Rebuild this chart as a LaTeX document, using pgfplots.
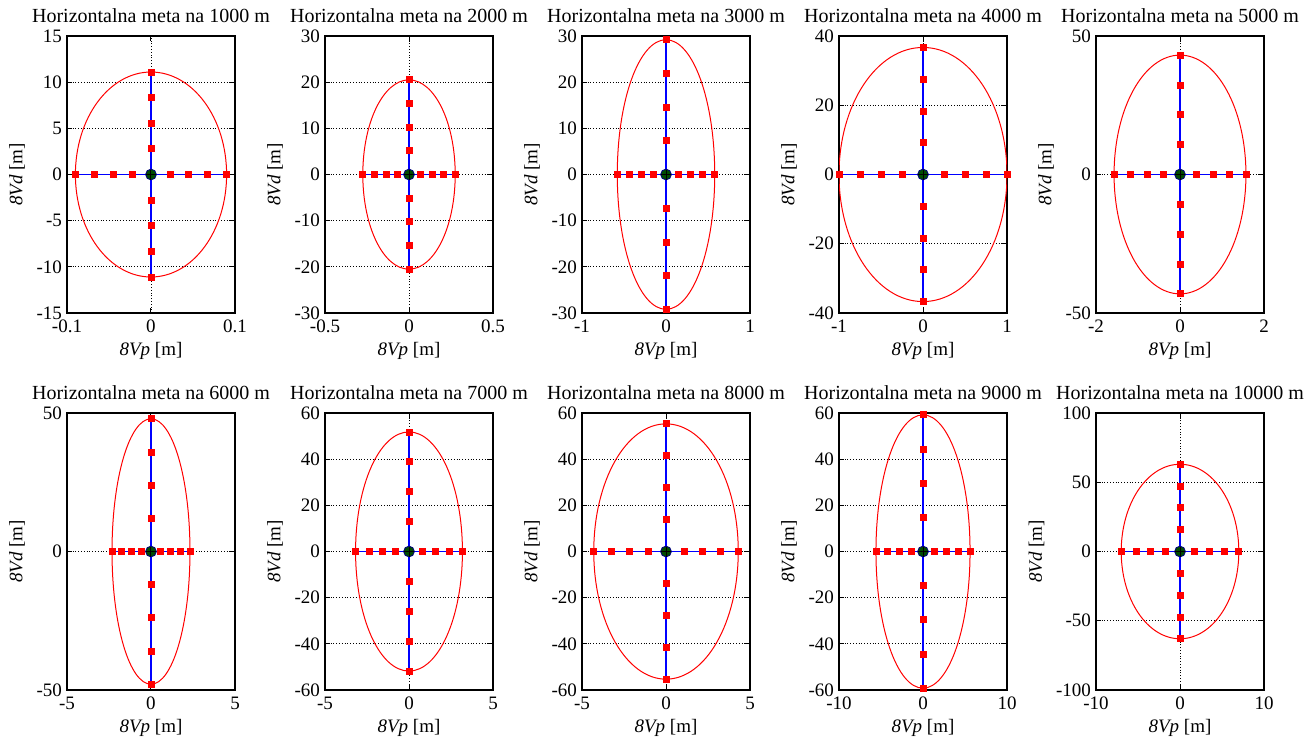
\documentclass[border=0pt]{standalone}
\usepackage{fontspec}
\setmainfont{Liberation Serif}
\usepackage{pgfplots}
\pgfplotsset{compat=1.18}

\tikzset{ell/.style={red, line width=0.5pt}}
\newcommand{\tl}[1]{\mbox{#1}}
\pgfplotsset{
  panel/.style={
    scale only axis, width=84pt, height=138.5pt, anchor=south west,
    axis line style={line width=0.9pt},
    tick style={black, line width=0.5pt}, tick align=inside, major tick length=2.5pt,
    grid=major, grid style={densely dotted, black, line width=0.45pt},
    font=\fontsize{9.5}{11}\selectfont,
    tick label style={font=\fontsize{9.5}{11}\selectfont},
    title style={font=\fontsize{10}{12}\selectfont, yshift=-3pt},
    xlabel={\textit{8Vp} [m]}, ylabel={\textit{8Vd} [m]},
    xlabel style={yshift=2pt}, ylabel style={yshift=-1pt},
    xticklabel style={yshift=0pt}, yticklabel style={xshift=1pt},
  },
  sq/.style={only marks, mark=square*, mark size=1.5pt, red},
  ln/.style={blue, line width=0.6pt},
  ctr/.style={only marks, mark=*, mark size=2.7pt, draw=blue!50!black, fill=green!30!black},
  pl/.style={only marks, mark=+, mark size=2.5pt, black, line width=0.5pt},
}

\begin{document}
\begin{tikzpicture}
% ---- row 1 ----
\begin{axis}[panel, at={(33.5pt,-156.5pt)}, title={Horizontalna meta na 1000 m},
  xmin=-0.1, xmax=0.1, ymin=-15, ymax=15,
  xtick={-0.1,0,0.1}, xticklabels={\tl{-0.1},\tl{0},\tl{0.1}},
  ytick={-15,-10,-5,0,5,10,15}, yticklabels={\tl{-15},\tl{-10},\tl{-5},\tl{0},\tl{5},\tl{10},\tl{15}}]
\draw[ell] (axis cs:0,0) ellipse [x radius=0.09, y radius=11.1];
\addplot[sq] coordinates {(-0.09,0)(-0.0675,0)(-0.045,0)(-0.0225,0)(0.0225,0)(0.045,0)(0.0675,0)(0.09,0)
  (0,-11.1)(0,-8.325)(0,-5.55)(0,-2.775)(0,2.775)(0,5.55)(0,8.325)(0,11.1)};
\addplot[ln] coordinates {(-0.09,0)(0.09,0)};
\addplot[ln] coordinates {(0,-11.1)(0,11.1)};
\addplot[ctr] coordinates {(0,0)};
\addplot[pl] coordinates {(0,0)};
\end{axis}

\begin{axis}[panel, at={(162.5pt,-156.5pt)}, title={Horizontalna meta na 2000 m},
  xmin=-0.5, xmax=0.5, ymin=-30, ymax=30,
  xtick={-0.5,0,0.5}, xticklabels={\tl{-0.5},\tl{0},\tl{0.5}},
  ytick={-30,-20,-10,0,10,20,30}, yticklabels={\tl{-30},\tl{-20},\tl{-10},\tl{0},\tl{10},\tl{20},\tl{30}}]
\draw[ell] (axis cs:0,0) ellipse [x radius=0.275, y radius=20.5];
\addplot[sq] coordinates {(-0.275,0)(-0.206,0)(-0.1375,0)(-0.069,0)(0.069,0)(0.1375,0)(0.206,0)(0.275,0)
  (0,-20.5)(0,-15.375)(0,-10.25)(0,-5.125)(0,5.125)(0,10.25)(0,15.375)(0,20.5)};
\addplot[ln] coordinates {(-0.275,0)(0.275,0)};
\addplot[ln] coordinates {(0,-20.5)(0,20.5)};
\addplot[ctr] coordinates {(0,0)};
\addplot[pl] coordinates {(0,0)};
\end{axis}

\begin{axis}[panel, at={(291pt,-156.5pt)}, title={Horizontalna meta na 3000 m},
  xmin=-1, xmax=1, ymin=-30, ymax=30,
  xtick={-1,0,1}, xticklabels={\tl{-1},\tl{0},\tl{1}},
  ytick={-30,-20,-10,0,10,20,30}, yticklabels={\tl{-30},\tl{-20},\tl{-10},\tl{0},\tl{10},\tl{20},\tl{30}}]
\draw[ell] (axis cs:0,0) ellipse [x radius=0.58, y radius=29.2];
\addplot[sq] coordinates {(-0.58,0)(-0.435,0)(-0.29,0)(-0.145,0)(0.145,0)(0.29,0)(0.435,0)(0.58,0)
  (0,-29.2)(0,-21.9)(0,-14.6)(0,-7.3)(0,7.3)(0,14.6)(0,21.9)(0,29.2)};
\addplot[ln] coordinates {(-0.58,0)(0.58,0)};
\addplot[ln] coordinates {(0,-29.2)(0,29.2)};
\addplot[ctr] coordinates {(0,0)};
\addplot[pl] coordinates {(0,0)};
\end{axis}

\begin{axis}[panel, at={(419.5pt,-156.5pt)}, title={Horizontalna meta na 4000 m},
  xmin=-1, xmax=1, ymin=-40, ymax=40,
  xtick={-1,0,1}, xticklabels={\tl{-1},\tl{0},\tl{1}},
  ytick={-40,-20,0,20,40}, yticklabels={\tl{-40},\tl{-20},\tl{0},\tl{20},\tl{40}}]
\draw[ell] (axis cs:0,0) ellipse [x radius=1.0, y radius=36.7];
\addplot[sq] coordinates {(-1,0)(-0.75,0)(-0.5,0)(-0.25,0)(0.25,0)(0.5,0)(0.75,0)(1,0)
  (0,-36.7)(0,-27.525)(0,-18.35)(0,-9.175)(0,9.175)(0,18.35)(0,27.525)(0,36.7)};
\addplot[ln] coordinates {(-1,0)(1,0)};
\addplot[ln] coordinates {(0,-36.7)(0,36.7)};
\addplot[ctr] coordinates {(0,0)};
\addplot[pl] coordinates {(0,0)};
\end{axis}

\begin{axis}[panel, at={(548pt,-156.5pt)}, title={Horizontalna meta na 5000 m},
  xmin=-2, xmax=2, ymin=-50, ymax=50,
  xtick={-2,0,2}, xticklabels={\tl{-2},\tl{0},\tl{2}},
  ytick={-50,0,50}, yticklabels={\tl{-50},\tl{0},\tl{50}}]
\draw[ell] (axis cs:0,0) ellipse [x radius=1.57, y radius=43.1];
\addplot[sq] coordinates {(-1.57,0)(-1.1775,0)(-0.785,0)(-0.3925,0)(0.3925,0)(0.785,0)(1.1775,0)(1.57,0)
  (0,-43.1)(0,-32.325)(0,-21.55)(0,-10.775)(0,10.775)(0,21.55)(0,32.325)(0,43.1)};
\addplot[ln] coordinates {(-1.57,0)(1.57,0)};
\addplot[ln] coordinates {(0,-43.1)(0,43.1)};
\addplot[ctr] coordinates {(0,0)};
\addplot[pl] coordinates {(0,0)};
\end{axis}

% ---- row 2 ----
\begin{axis}[panel, at={(33.5pt,-345pt)}, title={Horizontalna meta na 6000 m},
  xmin=-5, xmax=5, ymin=-50, ymax=50,
  xtick={-5,0,5}, xticklabels={\tl{-5},\tl{0},\tl{5}},
  ytick={-50,0,50}, yticklabels={\tl{-50},\tl{0},\tl{50}}]
\draw[ell] (axis cs:0,0) ellipse [x radius=2.32, y radius=47.9];
\addplot[sq] coordinates {(-2.32,0)(-1.74,0)(-1.16,0)(-0.58,0)(0.58,0)(1.16,0)(1.74,0)(2.32,0)
  (0,-47.9)(0,-35.925)(0,-23.95)(0,-11.975)(0,11.975)(0,23.95)(0,35.925)(0,47.9)};
\addplot[ln] coordinates {(-2.32,0)(2.32,0)};
\addplot[ln] coordinates {(0,-47.9)(0,47.9)};
\addplot[ctr] coordinates {(0,0)};
\addplot[pl] coordinates {(0,0)};
\end{axis}

\begin{axis}[panel, at={(162.5pt,-345pt)}, title={Horizontalna meta na 7000 m},
  xmin=-5, xmax=5, ymin=-60, ymax=60,
  xtick={-5,0,5}, xticklabels={\tl{-5},\tl{0},\tl{5}},
  ytick={-60,-40,-20,0,20,40,60}, yticklabels={\tl{-60},\tl{-40},\tl{-20},\tl{0},\tl{20},\tl{40},\tl{60}}]
\draw[ell] (axis cs:0,0) ellipse [x radius=3.18, y radius=51.8];
\addplot[sq] coordinates {(-3.18,0)(-2.385,0)(-1.59,0)(-0.795,0)(0.795,0)(1.59,0)(2.385,0)(3.18,0)
  (0,-51.8)(0,-38.85)(0,-25.9)(0,-12.95)(0,12.95)(0,25.9)(0,38.85)(0,51.8)};
\addplot[ln] coordinates {(-3.18,0)(3.18,0)};
\addplot[ln] coordinates {(0,-51.8)(0,51.8)};
\addplot[ctr] coordinates {(0,0)};
\addplot[pl] coordinates {(0,0)};
\end{axis}

\begin{axis}[panel, at={(291pt,-345pt)}, title={Horizontalna meta na 8000 m},
  xmin=-5, xmax=5, ymin=-60, ymax=60,
  xtick={-5,0,5}, xticklabels={\tl{-5},\tl{0},\tl{5}},
  ytick={-60,-40,-20,0,20,40,60}, yticklabels={\tl{-60},\tl{-40},\tl{-20},\tl{0},\tl{20},\tl{40},\tl{60}}]
\draw[ell] (axis cs:0,0) ellipse [x radius=4.3, y radius=55.3];
\addplot[sq] coordinates {(-4.3,0)(-3.225,0)(-2.15,0)(-1.075,0)(1.075,0)(2.15,0)(3.225,0)(4.3,0)
  (0,-55.3)(0,-41.475)(0,-27.65)(0,-13.825)(0,13.825)(0,27.65)(0,41.475)(0,55.3)};
\addplot[ln] coordinates {(-4.3,0)(4.3,0)};
\addplot[ln] coordinates {(0,-55.3)(0,55.3)};
\addplot[ctr] coordinates {(0,0)};
\addplot[pl] coordinates {(0,0)};
\end{axis}

\begin{axis}[panel, at={(419.5pt,-345pt)}, title={Horizontalna meta na 9000 m},
  xmin=-10, xmax=10, ymin=-60, ymax=60,
  xtick={-10,0,10}, xticklabels={\tl{-10},\tl{0},\tl{10}},
  ytick={-60,-40,-20,0,20,40,60}, yticklabels={\tl{-60},\tl{-40},\tl{-20},\tl{0},\tl{20},\tl{40},\tl{60}}]
\draw[ell] (axis cs:0,0) ellipse [x radius=5.6, y radius=59.2];
\addplot[sq] coordinates {(-5.6,0)(-4.2,0)(-2.8,0)(-1.4,0)(1.4,0)(2.8,0)(4.2,0)(5.6,0)
  (0,-59.2)(0,-44.4)(0,-29.6)(0,-14.8)(0,14.8)(0,29.6)(0,44.4)(0,59.2)};
\addplot[ln] coordinates {(-5.6,0)(5.6,0)};
\addplot[ln] coordinates {(0,-59.2)(0,59.2)};
\addplot[ctr] coordinates {(0,0)};
\addplot[pl] coordinates {(0,0)};
\end{axis}

\begin{axis}[panel, at={(548pt,-345pt)}, title={Horizontalna meta na 10000 m},
  xmin=-10, xmax=10, ymin=-100, ymax=100,
  xtick={-10,0,10}, xticklabels={\tl{-10},\tl{0},\tl{10}},
  ytick={-100,-50,0,50,100}, yticklabels={\tl{-100},\tl{-50},\tl{0},\tl{50},\tl{100}}]
\draw[ell] (axis cs:0,0) ellipse [x radius=7.0, y radius=63];
\addplot[sq] coordinates {(-7,0)(-5.25,0)(-3.5,0)(-1.75,0)(1.75,0)(3.5,0)(5.25,0)(7,0)
  (0,-63)(0,-47.25)(0,-31.5)(0,-15.75)(0,15.75)(0,31.5)(0,47.25)(0,63)};
\addplot[ln] coordinates {(-7,0)(7,0)};
\addplot[ln] coordinates {(0,-63)(0,63)};
\addplot[ctr] coordinates {(0,0)};
\addplot[pl] coordinates {(0,0)};
\end{axis}

\pgfresetboundingbox
\path[use as bounding box] (0pt,0pt) rectangle (657.5pt,-372.5pt);
\end{tikzpicture}
\end{document}
